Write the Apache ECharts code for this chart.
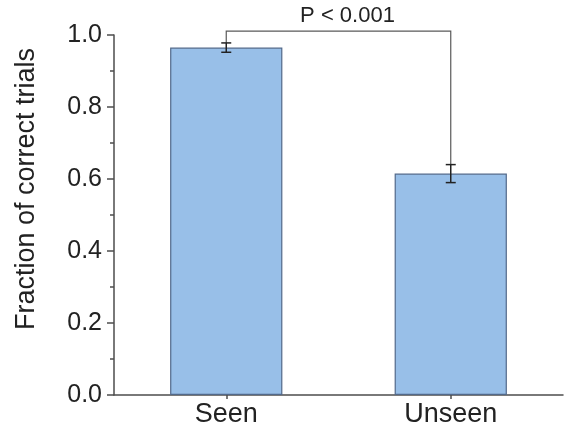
<!DOCTYPE html>
<html>
<head>
<meta charset="utf-8">
<script src="https://cdn.jsdelivr.net/npm/echarts@6/dist/echarts.min.js"></script>
<style>
  html, body { margin: 0; padding: 0; background: #ffffff; }
  #chart { width: 566px; height: 430px; }
</style>
</head>
<body>
<div id="chart"></div>
<script>
// Categories and measured fractions with their error half-widths
const categories = ['Seen', 'Unseen'];
const means = [0.965, 0.615];
const errors = [0.013, 0.025];

// Significance bracket between the two groups
const bracketLevel = 1.011;
const bracketText = 'P < 0.001';

// Y axis ticks
const yMin = 0, yMax = 1.0, yStep = 0.2;

const FONT = 'Liberation Sans, Arial, sans-serif';

const chart = echarts.init(document.getElementById('chart'), null, { renderer: 'canvas' });

const errorData = categories.map((c, i) => [i, means[i], errors[i]]);

const option = {
  backgroundColor: '#ffffff',
  animation: false,
  grid: { left: 114, right: 3, top: 35, bottom: 35, containLabel: false },
  xAxis: {
    type: 'category',
    data: categories,
    axisLine: { show: true, lineStyle: { color: '#4d4d4d', width: 1.5 } },
    axisTick: { show: true, alignWithLabel: true, length: 4, lineStyle: { color: '#4d4d4d', width: 1.5 } },
    axisLabel: { color: '#222222', fontFamily: FONT, fontSize: 27, margin: 6 },
    splitLine: { show: false }
  },
  yAxis: {
    type: 'value',
    min: yMin, max: yMax, interval: yStep,
    name: 'Fraction of correct trials',
    nameLocation: 'middle',
    nameGap: 74,
    nameRotate: 90,
    nameTextStyle: { color: '#222222', fontFamily: FONT, fontSize: 27, padding: [0, 0, 0, 52] },
    axisLine: { show: true, lineStyle: { color: '#4d4d4d', width: 1.5 } },
    axisTick: { show: true, length: 7, lineStyle: { color: '#4d4d4d', width: 1.5 } },
    minorTick: { show: true, splitNumber: 2, length: 4, lineStyle: { color: '#4d4d4d', width: 1.5 } },
    axisLabel: {
      color: '#222222', fontFamily: FONT, fontSize: 25, margin: 12,
      formatter: v => v.toFixed(1)
    },
    splitLine: { show: false }
  },
  series: [
    {
      type: 'bar',
      data: means,
      barWidth: '50%',
      itemStyle: { color: '#98bfe8', borderColor: '#52698a', borderWidth: 1.2 },
      z: 2
    },
    {
      // error bars: vertical stem with caps
      type: 'custom',
      data: errorData,
      z: 5,
      renderItem: function (params, api) {
        const x = api.value(0), m = api.value(1), e = api.value(2);
        const hi = api.coord([x, m + e]);
        const lo = api.coord([x, m - e]);
        const cap = 5;
        const style = { stroke: '#222222', lineWidth: 1.5 };
        return {
          type: 'group',
          children: [
            { type: 'line', shape: { x1: hi[0], y1: hi[1], x2: lo[0], y2: lo[1] }, style },
            { type: 'line', shape: { x1: hi[0] - cap, y1: hi[1], x2: hi[0] + cap, y2: hi[1] }, style },
            { type: 'line', shape: { x1: lo[0] - cap, y1: lo[1], x2: lo[0] + cap, y2: lo[1] }, style }
          ]
        };
      }
    },
    {
      // significance bracket from the top of each error bar
      type: 'custom',
      data: [[0, 1, bracketLevel]],
      z: 4,
      clip: false,
      renderItem: function (params, api) {
        const a = api.value(0), b = api.value(1), lvl = api.value(2);
        const pA = api.coord([a, means[a] + errors[a]]);
        const pB = api.coord([b, means[b] + errors[b]]);
        const tA = api.coord([a, lvl]);
        const tB = api.coord([b, lvl]);
        const style = { stroke: '#5a5a5a', lineWidth: 1.2, fill: null };
        return {
          type: 'group',
          children: [
            { type: 'polyline', shape: { points: [pA, tA, tB, pB] }, style },
            {
              type: 'text',
              x: (tA[0] + tB[0]) / 2 + 9,
              y: tA[1] - 4,
              style: {
                text: bracketText,
                fontFamily: FONT,
                fontSize: 22,
                fill: '#222222',
                align: 'center',
                verticalAlign: 'bottom'
              }
            }
          ]
        };
      }
    }
  ]
};

chart.setOption(option);
</script>
</body>
</html>
